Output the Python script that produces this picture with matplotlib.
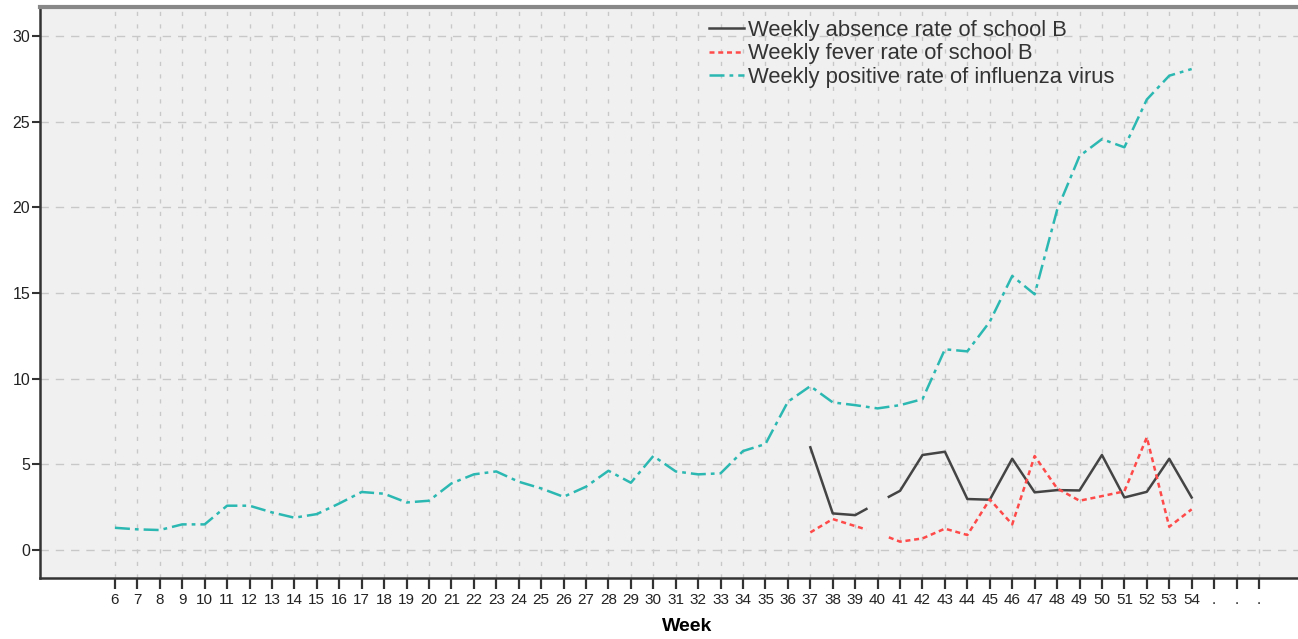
import matplotlib.pyplot as plt
import numpy as np

# weeks 6..54, week 40 has no school data shown around it
weeks = list(range(6, 55))

influenza_rate = [1.30, 1.21, 1.17, 1.50, 1.50, 2.59, 2.59, 2.20, 1.89, 2.10,
                  2.72, 3.39, 3.29, 2.78, 2.88, 3.89, 4.42, 4.59, 3.99, 3.60,
                  3.11, 3.70, 4.63, 3.93, 5.49, 4.59, 4.42, 4.48, 5.78, 6.19,
                  8.66, 9.57, 8.62, 8.46, 8.27, 8.46, 8.81, 11.72, 11.60, 13.33,
                  16.00, 14.93, 19.85, 23.00, 23.99, 23.51, 26.30, 27.69, 28.08]

school_weeks = list(range(37, 55))
absence_rate = [6.00, 2.14, 2.04, 2.76, 3.46, 5.55, 5.74, 2.98, 2.94, 5.33,
                3.37, 3.50, 3.48, 5.55, 3.07, 3.40, 5.33, 3.07]
fever_rate = [1.03, 1.81, 1.40, 1.00, 0.49, 0.68, 1.25, 0.88, 2.96, 1.50,
              5.49, 3.60, 2.88, 3.15, 3.43, 6.58, 1.36, 2.38]
gap_week = 40

tick_labels = [str(w) for w in weeks] + [".", ".", "."]


def split_at_gap(x, y, gap):
    # drop the half segments on either side of the gap week
    xs, ys = [], []
    for i in range(len(x) - 1):
        x0, x1, y0, y1 = x[i], x[i + 1], y[i], y[i + 1]
        if x0 == gap:
            xs += [np.nan, (x0 + x1) / 2]
            ys += [np.nan, (y0 + y1) / 2]
            continue
        xs.append(x0)
        ys.append(y0)
        if x1 == gap:
            xs.append((x0 + x1) / 2)
            ys.append((y0 + y1) / 2)
    xs.append(x[-1])
    ys.append(y[-1])
    return xs, ys


plt.rcParams['font.family'] = ['Liberation Sans', 'DejaVu Sans']

fig = plt.figure(figsize=(12.98, 6.39), dpi=100)
ax = fig.add_axes([40 / 1298, 1 - 578 / 639, 1 - 40 / 1298, (578 - 7) / 639])
ax.set_facecolor('#f0f0f0')

ax_x, ab_y = split_at_gap(school_weeks, absence_rate, gap_week)
fx_x, fv_y = split_at_gap(school_weeks, fever_rate, gap_week)

ax.plot(ax_x, ab_y, color='#444444', lw=1.8, ls='-',
        label='Weekly absence rate of school B')
ax.plot(fx_x, fv_y, color='#ff4a4a', lw=1.8, ls=(0, (2, 1.5)),
        label='Weekly fever rate of school B')
ax.plot(weeks, influenza_rate, color='#2cb8b2', lw=1.8, ls=(0, (6, 2, 1.5, 2)),
        label='Weekly positive rate of influenza virus')

ax.set_xlim(2.66, 58.74)
ax.set_ylim(-1.63, 31.7)

ax.set_xticks(range(6, 58))
ax.set_xticklabels(tick_labels, fontsize=11, color='#222222')
ax.set_yticks(range(0, 31, 5))
ax.tick_params(axis='y', labelsize=11.5, length=6, width=1.5, color='#333333', pad=1, labelcolor='#222222')
ax.tick_params(axis='x', length=8, width=1.6, color='#333333', pad=3)

ax.grid(axis='x', color='#c8c8c8', lw=1.0, ls=(0, (3, 6)))
ax.grid(axis='y', color='#c8c8c8', lw=1.0, ls=(0, (6, 5)))
ax.set_axisbelow(True)

for side in ['left', 'bottom']:
    ax.spines[side].set_color('#333333')
    ax.spines[side].set_linewidth(1.8)
ax.spines['top'].set_color('#888888')
ax.spines['top'].set_linewidth(3)
ax.spines['right'].set_visible(False)

ax.set_xlabel('Week', fontsize=14, fontweight='bold')
ax.xaxis.set_label_coords(0.514, -0.07)

leg = ax.legend(loc='upper left', bbox_to_anchor=(0.5245, 0.993), frameon=False,
                fontsize=15.8, handlelength=1.6, handletextpad=0.2,
                labelspacing=0.12, borderaxespad=0)
for t in leg.get_texts():
    t.set_color('#333333')

fig.savefig('out.png', dpi=100)
